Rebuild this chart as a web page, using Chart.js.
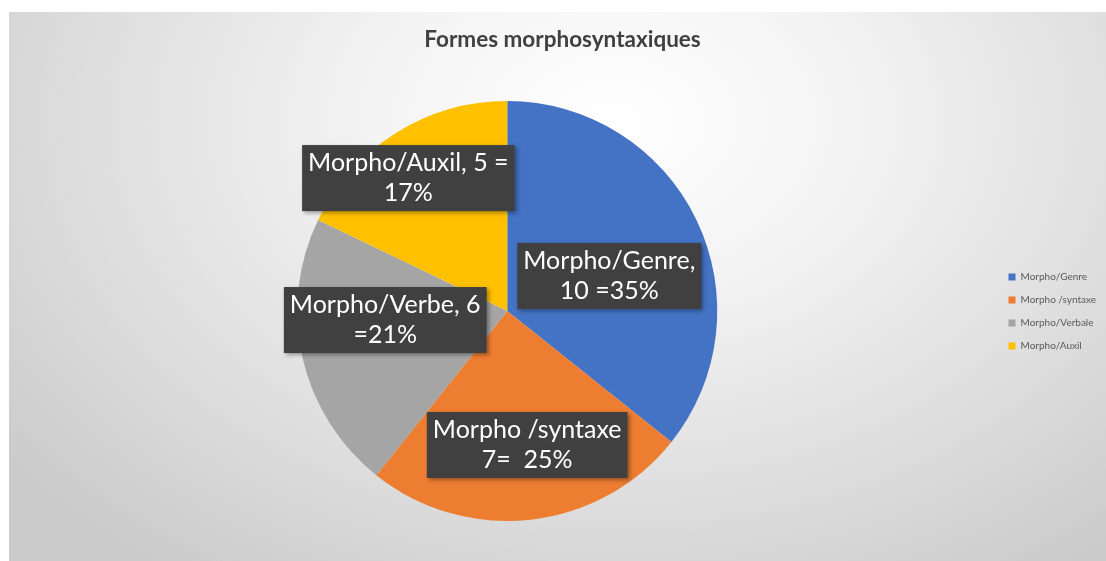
<!DOCTYPE html>
<html>
<head>
<meta charset="utf-8">
<title>Formes morphosyntaxiques</title>
<script src="https://cdn.jsdelivr.net/npm/chart.js"></script>
<style>
  html, body { margin: 0; padding: 0; background: #fff; }
  #wrap {
    position: absolute; left: 9px; top: 12px; width: 1097px; height: 549px;
    background: radial-gradient(ellipse 70% 100% at 55% 20%, #ffffff 0%, #f4f4f4 30%, #e0e0e0 65%, #cbcbcb 100%);
  }
</style>
</head>
<body>
<div id="wrap"><canvas id="pieChart"></canvas></div>
<script>
// data
const categories = ['Morpho/Genre', 'Morpho /syntaxe', 'Morpho/Verbale', 'Morpho/Auxil'];
const counts = [10, 7, 6, 5];
const calloutText = [
  ['Morpho/Genre,', '10 =35%'],
  ['Morpho /syntaxe', '7=  25%'],
  ['Morpho/Verbe, 6', '=21%'],
  ['Morpho/Auxil, 5 =', '17%']
];
const sliceColors = ['#4472C4', '#ED7D31', '#A5A5A5', '#FFC000'];

// callout centre, as a fraction of the radius away from the pie centre
const calloutPos = [
  [0.486, -0.167],
  [0.095, 0.638],
  [-0.581, 0.043],
  [-0.471, -0.633]
];

const calloutPlugin = {
  id: 'callouts',
  afterDatasetsDraw(chart) {
    const ctx = chart.ctx;
    const meta = chart.getDatasetMeta(0);
    const lineH = 30, padX = 6, padY = 3;
    ctx.save();
    ctx.font = '25px Lato';
    meta.data.forEach((arc, i) => {
      const r = arc.outerRadius;
      const cx = arc.x + calloutPos[i][0] * r;
      const cy = arc.y + calloutPos[i][1] * r;
      const lines = calloutText[i];
      const w = Math.max(...lines.map(l => ctx.measureText(l).width)) + padX * 2;
      const h = lines.length * lineH + padY * 2;
      ctx.shadowColor = 'rgba(0,0,0,0.35)';
      ctx.shadowBlur = 4;
      ctx.shadowOffsetX = 2;
      ctx.shadowOffsetY = 2;
      ctx.fillStyle = '#404040';
      ctx.fillRect(cx - w / 2, cy - h / 2, w, h);
      ctx.shadowColor = 'transparent';
      ctx.fillStyle = '#ffffff';
      ctx.textAlign = 'center';
      ctx.textBaseline = 'middle';
      lines.forEach((l, j) => {
        ctx.fillText(l, cx, cy - h / 2 + padY + lineH * (j + 0.5));
      });
    });
    ctx.restore();
  }
};

new Chart(document.getElementById('pieChart'), {
  type: 'pie',
  data: {
    labels: categories,
    datasets: [{
      data: counts,
      backgroundColor: sliceColors,
      borderWidth: 0,
      radius: 210
    }]
  },
  options: {
    responsive: true,
    maintainAspectRatio: false,
    animation: false,
    layout: { padding: { left: 10, right: 0 } },
    plugins: {
      title: {
        display: true,
        text: 'Formes morphosyntaxiques',
        color: '#404040',
        font: { family: 'Lato', size: 22.5, weight: 'bold' },
        padding: { top: 14, bottom: 8 }
      },
      legend: {
        position: 'right',
        title: { display: true, text: '', font: { size: 10 }, padding: { top: 19, bottom: 19 } },
        labels: {
          boxWidth: 7,
          boxHeight: 7,
          padding: 13,
          color: '#595959',
          font: { family: 'Lato', size: 10 }
        }
      },
      tooltip: { enabled: false }
    }
  },
  plugins: [calloutPlugin]
});
</script>
</body>
</html>
